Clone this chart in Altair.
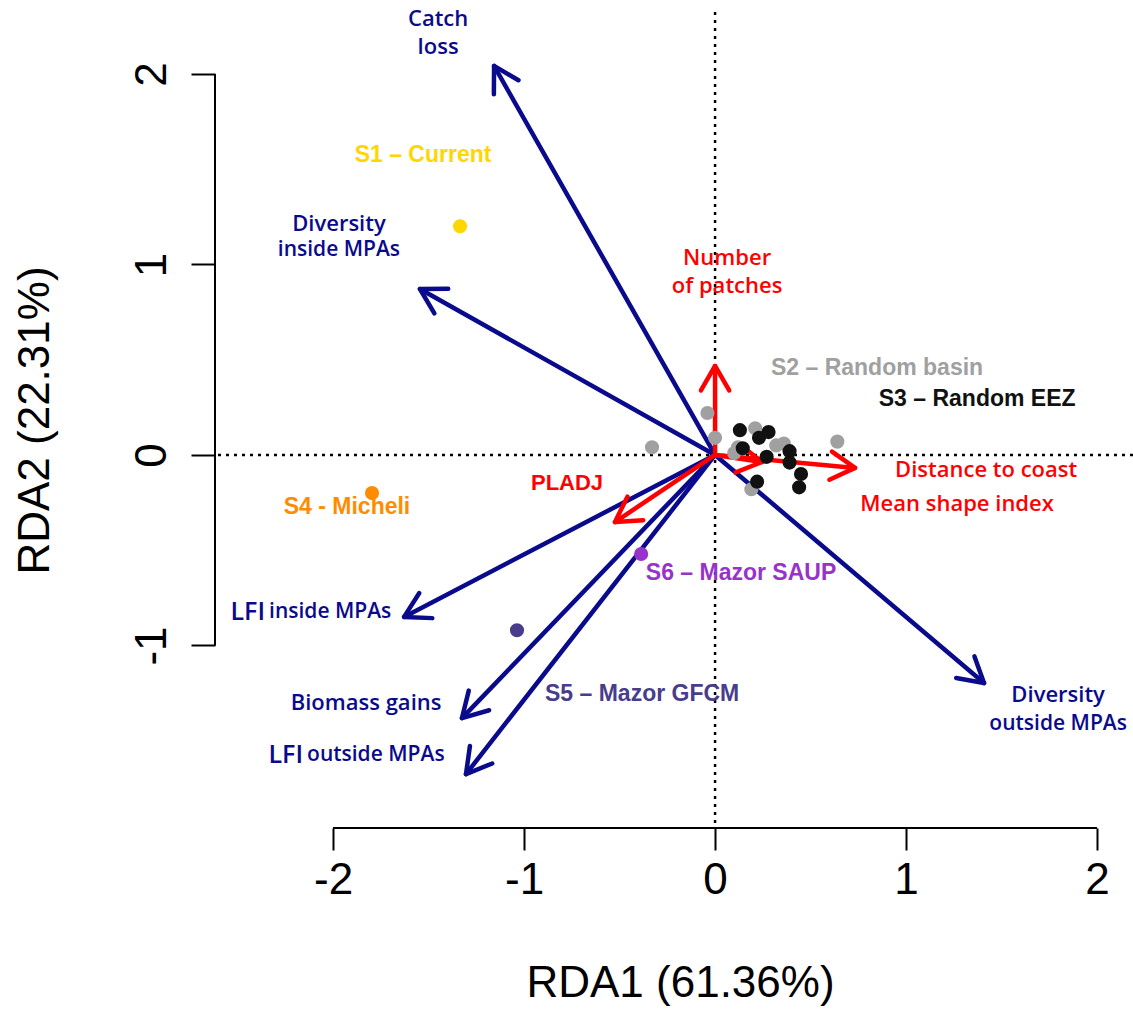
import math

import altair as alt
import pandas as pd

# ---------------------------------------------------------------------------
# RDA biplot: scenario scores (points) and explanatory / response vectors
# ---------------------------------------------------------------------------

# S2 - Random basin replicates
s2_x = [-0.04, 0.00, -0.33, 0.21, 0.10, 0.36, 0.32, 0.64, 0.19, 0.12]
s2_y = [0.22, 0.09, 0.04, 0.14, 0.01, 0.06, 0.05, 0.07, -0.18, 0.04]

# S3 - Random EEZ replicates
s3_x = [0.13, 0.23, 0.28, 0.145, 0.27, 0.39, 0.39, 0.45, 0.44, 0.22]
s3_y = [0.13, 0.09, 0.12, 0.035, -0.01, 0.02, -0.04, -0.10, -0.17, -0.14]

# Single-solution scenarios
single_names = ["S1", "S4", "S5", "S6"]
single_x = [-1.335, -1.796, -1.037, -0.387]
single_y = [1.20, -0.20, -0.92, -0.52]

scenario_colors = {
    "S1": "#FFD700",
    "S2": "#A0A0A0",
    "S3": "#111111",
    "S4": "#FF8C00",
    "S5": "#483D8B",
    "S6": "#9932CC",
}

# Response variables (blue vectors)
resp_names = ["Catch loss", "Diversity inside MPAs", "LFI inside MPAs",
              "Biomass gains", "LFI outside MPAs", "Diversity outside MPAs"]
resp_x = [-1.157, -1.545, -1.628, -1.325, -1.304, 1.408]
resp_y = [2.042, 0.871, -0.850, -1.381, -1.675, -1.197]

# Explanatory variables (red vectors)
expl_names = ["Number of patches", "Distance to coast", "Mean shape index", "PLADJ"]
expl_x = [0.0, 0.733, 0.246, -0.524]
expl_y = [0.467, -0.068, -0.037, -0.352]

# Label anchors (biplot coordinates)
lab_resp_main = ["Catch", "loss", "Diversity", "Biomass gains", "Diversity"]
lab_resp_main_x = [-1.450, -1.450, -1.969, -1.827, 1.796]
lab_resp_main_y = [2.288, 2.142, 1.213, -1.302, -1.262]

lab_resp_sub = ["inside MPAs", "outside MPAs"]
lab_resp_sub_x = [-1.969, 1.796]
lab_resp_sub_y = [1.076, -1.410]

# "LFI" (right aligned) followed by a smaller qualifier (left aligned)
lab_lfi = ["LFI", "LFI"]
lab_lfi_x = [-2.356, -2.157]
lab_lfi_y = [-0.824, -1.575]
lab_lfi_sub = ["inside MPAs", "outside MPAs"]
lab_lfi_sub_x = [-2.335, -2.136]
lab_lfi_sub_y = [-0.824, -1.575]

lab_expl = ["Number", "of patches", "Distance to coast", "Mean shape index"]
lab_expl_x = [0.063, 0.063, 1.419, 1.267]
lab_expl_y = [1.034, 0.887, -0.079, -0.257]

lab_pladj = ["PLADJ"]
lab_pladj_x = [-0.775]
lab_pladj_y = [-0.147]

lab_scen = ["S1 – Current", "S2 – Random basin", "S3 – Random EEZ",
            "S4 - Micheli", "S5 – Mazor GFCM", "S6 – Mazor SAUP"]
lab_scen_key = ["S1", "S2", "S3", "S4", "S5", "S6"]
lab_scen_x = [-1.529, 0.848, 1.372, -1.927, -0.382, 0.136]
lab_scen_y = [1.575, 0.457, 0.294, -0.273, -1.255, -0.619]

x_ticks = [-2, -1, 0, 1, 2]
y_ticks = [-1, 0, 1, 2]

# ---------------------------------------------------------------------------
# Scales and axes
# ---------------------------------------------------------------------------
W, H = 918, 816
x_domain = [-2.618, 2.188]
y_domain = [-1.958, 2.325]
px_per_x = W / (x_domain[1] - x_domain[0])
px_per_y = H / (y_domain[1] - y_domain[0])

BLUE = "#0A0A8C"
RED = "#FF0000"
LABEL_FONT = "Open Sans"
LABEL_WEIGHT = 600

x_axis = alt.Axis(
    values=x_ticks, grid=False, domain=False, ticks=True, tickSize=22,
    tickWidth=2, tickColor="black", labelFont="Liberation Sans",
    labelFontSize=44, labelColor="black", labelPadding=8,
    labelExpr="'' + datum.value", labelFlush=False, labelOverlap=False,
    title="RDA1 (61.36%)", titleFont="Liberation Sans", titleFontSize=44,
    titleFontWeight="normal", titleColor="black", titleX=465, titleY=155,
    titleAlign="center", titleBaseline="middle",
)
y_axis = alt.Axis(
    values=y_ticks, grid=False, domain=False, ticks=True, tickSize=24,
    tickWidth=2, tickColor="black", labelFont="Liberation Sans",
    labelFontSize=44, labelColor="black", labelPadding=26, labelAngle=270,
    labelAlign="center", labelBaseline="alphabetic",
    labelExpr="'' + datum.value", labelFlush=False, labelOverlap=False,
    title="RDA2 (22.31%)", titleFont="Liberation Sans", titleFontSize=44,
    titleFontWeight="normal", titleColor="black", titleAngle=270,
    titleX=-180, titleY=408, titleAlign="center", titleBaseline="middle",
)


def X(field):
    return alt.X(field, type="quantitative",
                 scale=alt.Scale(domain=x_domain, nice=False, zero=False),
                 axis=x_axis)


def Y(field):
    return alt.Y(field, type="quantitative",
                 scale=alt.Scale(domain=y_domain, nice=False, zero=False),
                 axis=y_axis)


# ---------------------------------------------------------------------------
# Tables
# ---------------------------------------------------------------------------
points = pd.concat([
    pd.DataFrame({"x": s2_x, "y": s2_y, "grp": "S2"}),
    pd.DataFrame({"x": s3_x, "y": s3_y, "grp": "S3"}),
    pd.DataFrame({"x": single_x, "y": single_y, "grp": single_names}),
], ignore_index=True)
points["order"] = range(len(points))
points["color"] = points["grp"].map(scenario_colors)

arrows = pd.concat([
    pd.DataFrame({"name": resp_names, "x": resp_x, "y": resp_y, "color": BLUE}),
    pd.DataFrame({"name": expl_names, "x": expl_x, "y": expl_y, "color": RED}),
], ignore_index=True)
arrows["x0"] = 0.0
arrows["y0"] = 0.0
arrows["angle"] = [
    math.degrees(math.atan2(-dy * px_per_y, dx * px_per_x)) % 360
    for dx, dy in zip(arrows["x"], arrows["y"])
]

zero_df = pd.DataFrame({"v": [0.0]})
x_axis_line = pd.DataFrame({"x0": [min(x_ticks)], "x1": [max(x_ticks)],
                            "y": [y_domain[0]]})
y_axis_line = pd.DataFrame({"y0": [min(y_ticks)], "y1": [max(y_ticks)],
                            "x": [x_domain[0]]})

# ---------------------------------------------------------------------------
# Layers
# ---------------------------------------------------------------------------
zero_h = alt.Chart(zero_df).mark_rule(
    color="black", strokeWidth=2.5, strokeDash=[3, 5]
).encode(y=Y("v"))
zero_v = alt.Chart(zero_df).mark_rule(
    color="black", strokeWidth=2.5, strokeDash=[3, 5]
).encode(x=X("v"))

axis_x = alt.Chart(x_axis_line).mark_rule(color="black", strokeWidth=2).encode(
    x=X("x0"), x2="x1", y=Y("y"))
axis_y = alt.Chart(y_axis_line).mark_rule(color="black", strokeWidth=2).encode(
    y=Y("y0"), y2="y1", x=X("x"))

shafts = alt.Chart(arrows).mark_rule(strokeWidth=4.5, strokeCap="round").encode(
    x=X("x0"), y=Y("y0"), x2="x", y2="y",
    color=alt.Color("color:N", scale=None),
)

heads = alt.Chart(arrows).mark_point(
    shape="M-1,-0.577L0,0L-1,0.577", filled=False, size=2400, strokeWidth=4.5,
    opacity=1, strokeCap="round", strokeJoin="round",
).encode(
    x=X("x"), y=Y("y"),
    angle=alt.Angle("angle:Q", scale=None),
    color=alt.Color("color:N", scale=None),
)

dots = alt.Chart(points).mark_circle(size=200, opacity=1).encode(
    x=X("x"), y=Y("y"),
    color=alt.Color("color:N", scale=None),
    order=alt.Order("order:Q"),
)


def text_layer(labels, xs, ys, color, font, size, weight="bold", align="center",
               colors=None):
    df = pd.DataFrame({"t": labels, "x": xs, "y": ys})
    df["c"] = colors if colors is not None else color
    return alt.Chart(df).mark_text(
        font=font, fontSize=size, fontWeight=weight, align=align,
        baseline="middle",
    ).encode(
        x=X("x"), y=Y("y"), text="t:N",
        color=alt.Color("c:N", scale=None),
    )


txt_resp = text_layer(lab_resp_main, lab_resp_main_x, lab_resp_main_y, BLUE,
                      LABEL_FONT, 22, weight=LABEL_WEIGHT)
txt_resp_sub = text_layer(lab_resp_sub, lab_resp_sub_x, lab_resp_sub_y, BLUE,
                          LABEL_FONT, 21, weight=LABEL_WEIGHT)
txt_lfi = text_layer(lab_lfi, lab_lfi_x, lab_lfi_y, BLUE, LABEL_FONT, 25,
                     weight=LABEL_WEIGHT, align="right")
txt_lfi_sub = text_layer(lab_lfi_sub, lab_lfi_sub_x, lab_lfi_sub_y, BLUE,
                         LABEL_FONT, 21, weight=LABEL_WEIGHT, align="left")
txt_expl = text_layer(lab_expl, lab_expl_x, lab_expl_y, RED, LABEL_FONT, 22,
                      weight=LABEL_WEIGHT)
txt_pladj = text_layer(lab_pladj, lab_pladj_x, lab_pladj_y, RED,
                       "Liberation Sans", 22)
txt_scen = text_layer(lab_scen, lab_scen_x, lab_scen_y, None, "Liberation Sans",
                      23, colors=[scenario_colors[k] for k in lab_scen_key])

chart = alt.layer(
    zero_h, zero_v, axis_x, axis_y, shafts, heads,
    txt_resp, txt_resp_sub, txt_lfi, txt_lfi_sub, txt_expl, txt_pladj, txt_scen,
    dots,
).properties(
    width=W, height=H,
    padding={"left": 215, "top": 12, "right": 0, "bottom": 184},
    autosize=alt.AutoSizeParams(type="none"),
    background="white",
).configure_view(stroke=None)

chart.save("out.html", embed_options={"renderer": "svg", "actions": False})
